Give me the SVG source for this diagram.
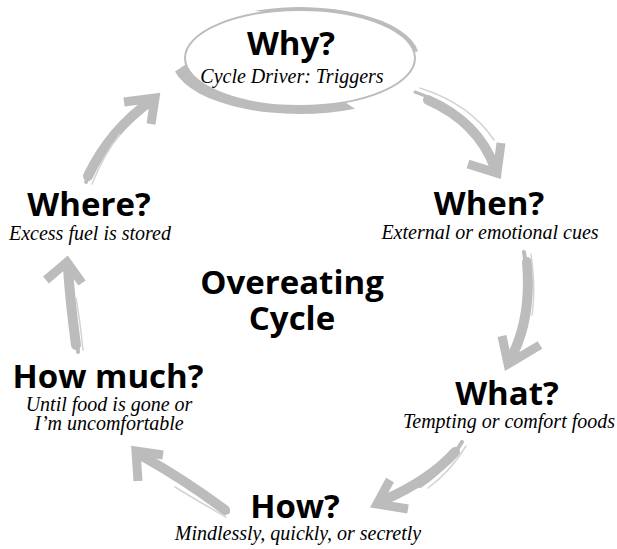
<svg xmlns="http://www.w3.org/2000/svg" width="617" height="549" viewBox="0 0 617 549">
<style>
.t{font-family:"Open Sans","Noto Sans",sans-serif;font-weight:bold;fill:#000;text-anchor:middle;font-size:33px}
.s{font-family:"Liberation Serif","DejaVu Serif",serif;font-style:italic;fill:#000;text-anchor:middle;font-size:20px}
.sh{fill:none;stroke:#bcbcbc;stroke-linecap:round}
.st{fill:none;stroke:#d4d4d4;stroke-linecap:round;stroke-width:1.5}
.hd{fill:none;stroke:#bcbcbc;stroke-width:9;stroke-linejoin:miter;stroke-linecap:butt}
</style>
<rect width="617" height="549" fill="#fff"/>
<g id="connectors">
<g id="a1">
<path class="sh" d="M428 100 Q478 122 495 168" stroke-width="10"/>
<path class="sh" d="M415 92 Q468 110 490 150" stroke-width="3"/>
<path class="st" d="M420 88 Q470 104 494 140"/>
<polyline class="hd" points="501,143 497,173 468,164"/>
</g>
<g id="a2">
<path class="sh" d="M527 262 Q532 320 510 360" stroke-width="10"/>
<path class="sh" d="M524 252 Q530 290 527 320" stroke-width="4"/>
<path class="st" d="M531 254 Q536 290 532 315"/>
<polyline class="hd" points="502,336 508,364 540,345"/>
</g>
<g id="a3">
<path class="sh" d="M455 452 Q430 480 382 501" stroke-width="10"/>
<path class="sh" d="M462 442 Q445 470 420 486" stroke-width="4"/>
<path class="st" d="M466 446 Q450 472 428 488"/>
<polyline class="hd" points="390,480 377,504 408,509"/>
</g>
<g id="a4">
<path class="sh" d="M225 510 Q185 480 142 456" stroke-width="10"/>
<path class="sh" d="M228 512 Q200 495 180 480" stroke-width="4"/>
<path class="st" d="M226 517 Q196 500 175 487"/>
<polyline class="hd" points="163,455 136,451 138,481"/>
</g>
<g id="a5">
<path class="sh" d="M76 345 Q70 300 68 268" stroke-width="10"/>
<path class="sh" d="M78 352 Q76 320 72 300" stroke-width="4"/>
<path class="st" d="M83 350 Q80 320 76 298"/>
<polyline class="hd" points="46,280 67,262 82,283"/>
</g>
<g id="a6">
<path class="sh" d="M88 176 Q110 130 151 101" stroke-width="10"/>
<path class="sh" d="M86 182 Q98 150 115 130" stroke-width="4"/>
<path class="st" d="M92 184 Q104 154 120 134"/>
<polyline class="hd" points="124,102 155,98 151,124"/>
</g>
</g>
<g id="why">
<ellipse cx="300" cy="58" rx="115" ry="48" fill="#fff" stroke="#bcbcbc" stroke-width="2"/>
<path d="M255 10.8 A119 51 0 0 1 418 51.4 L414 51.7 A115 48 0 0 0 265 12.3 Z" fill="#bcbcbc"/>
<path d="M175 71.6 A128 54 0 0 0 355 108.8 L345 102.2 A115 48 0 0 1 186 64.3 Z" fill="#bcbcbc"/>
<text class="t" x="291" y="55">Why?</text>
<text class="s" x="292" y="83">Cycle Driver: Triggers</text>
</g>
<g id="when">
<text class="t" x="489" y="215">When?</text>
<text class="s" x="490" y="239">External or emotional cues</text>
</g>
<g id="what">
<text class="t" x="507" y="405">What?</text>
<text class="s" x="509" y="428">Tempting or comfort foods</text>
</g>
<g id="how">
<text class="t" x="295" y="518">How?</text>
<text class="s" x="298" y="540">Mindlessly, quickly, or secretly</text>
</g>
<g id="howmuch">
<text class="t" x="108" y="388">How much?</text>
<text class="s" x="109" y="411">Until food is gone or</text>
<text class="s" x="109" y="430">I’m uncomfortable</text>
</g>
<g id="where">
<text class="t" x="89" y="216">Where?</text>
<text class="s" x="90" y="240">Excess fuel is stored</text>
</g>
<g id="center">
<text class="t" x="292" y="294">Overeating</text>
<text class="t" x="292" y="330">Cycle</text>
</g>
</svg>
